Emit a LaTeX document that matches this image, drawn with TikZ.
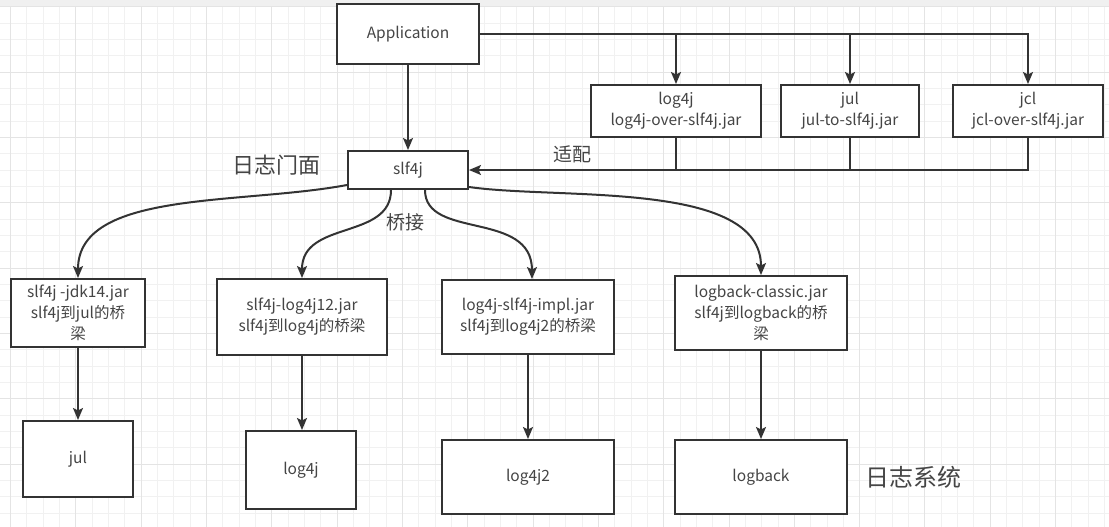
\documentclass[tikz,border=0pt]{standalone}
\usepackage{fontspec}
\setmainfont{Noto Sans CJK SC}
\usetikzlibrary{arrows.meta,calc}
\definecolor{ink}{HTML}{333333}
\definecolor{txt}{HTML}{454545}
\definecolor{gminor}{HTML}{F1F1F1}
\definecolor{gmajor}{HTML}{E4E4E4}
\definecolor{strip}{HTML}{F0F0F0}
\begin{document}
\begin{tikzpicture}[x=1pt,y=-1pt,
  box/.style={draw=ink, line width=2pt, fill=white, text=txt, align=center,
              inner sep=0pt, font=\fontsize{15.5}{21}\selectfont},
  link/.style={draw=ink, line width=2pt},
  tip/.style={-{Stealth[length=12pt,width=10pt,inset=2.5pt]}},
  lbl/.style={text=txt, inner sep=0pt}]
  % canvas and grid
  \useasboundingbox (0,0) rectangle (1109,527);
  \fill[white] (0,0) rectangle (1109,527);
  \foreach \i in {0,...,67} {
    \draw[gminor, line width=0.8pt] ({10.4+16.33*\i},7) -- ({10.4+16.33*\i},527);
  }
  \foreach \j in {0,...,32} {
    \draw[gminor, line width=0.8pt] (0,{6.7+16.33*\j}) -- (1109,{6.7+16.33*\j});
  }
  \foreach \i in {0,...,16} {
    \draw[gmajor, line width=0.8pt] ({10.4+65.32*\i},7) -- ({10.4+65.32*\i},527);
  }
  \foreach \j in {0,...,8} {
    \draw[gmajor, line width=0.8pt] (0,{6.7+65.32*\j}) -- (1109,{6.7+65.32*\j});
  }
  \fill[strip] (0,0) rectangle (1109,6.5);

  % top row
  \node[box, minimum width=142, minimum height=60] (app) at (408,34) {Application};
  \node[box, minimum width=120, minimum height=38] (slf) at (408,170) {slf4j};
  \node[box, minimum width=170, minimum height=52] (alog4j) at (676,111) {log4j\\log4j-over-slf4j.jar};
  \node[box, minimum width=138, minimum height=52] (ajul) at (850,111) {jul\\jul-to-slf4j.jar};
  \node[box, minimum width=150, minimum height=52] (ajcl) at (1028,111) {jcl\\jcl-over-slf4j.jar};

  % bridges
  \node[box, minimum width=134, minimum height=68] (bjdk) at (78,313) {slf4j -jdk14.jar\\slf4j到jul的桥\\梁};
  \node[box, minimum width=170, minimum height=76] (blog4j) at (302,317) {slf4j-log4j12.jar\\slf4j到log4j的桥梁};
  \node[box, minimum width=172, minimum height=74] (blog4j2) at (528,317) {log4j-slf4j-impl.jar\\slf4j到log4j2的桥梁};
  \node[box, minimum width=172, minimum height=74] (blogback) at (761,313) {logback-classic.jar\\slf4j到logback的桥\\梁};

  % logging systems
  \node[box, minimum width=110, minimum height=76] (sjul) at (78,459) {jul};
  \node[box, minimum width=110, minimum height=78] (slog4j) at (301,470) {log4j};
  \node[box, minimum width=172, minimum height=74] (slog4j2) at (528,477) {log4j2};
  \node[box, minimum width=172, minimum height=74] (slogback) at (761,477) {logback};

  % labels
  \node[lbl, font=\fontsize{22}{24}\selectfont] (facade) at (276,165) {日志门面};
  \node[lbl, font=\fontsize{19}{22}\selectfont] (adapt) at (572,154) {适配};
  \node[lbl, font=\fontsize{19}{22}\selectfont] (bridge) at (405,222) {桥接};
  \node[lbl, font=\fontsize{24}{26}\selectfont] (system) at (913,477) {日志系统};

  % application to facade and adapters
  \draw[link, tip] (app.south) -- (slf.north);
  \draw[link, tip] (app.east) -| (ajcl.north);
  \draw[link, tip] (app.east -| alog4j.north) -- (alog4j.north);
  \draw[link, tip] (app.east -| ajul.north) -- (ajul.north);

  % adapters back into slf4j
  \draw[link, tip] (ajcl.south) |- (slf.east);
  \draw[link] (alog4j.south) -- (alog4j.south |- slf.east);
  \draw[link] (ajul.south) -- (ajul.south |- slf.east);

  % slf4j to the bridges
  \coordinate (s1) at ($(slf.south west)+(0,-5)$);
  \coordinate (s2) at ($(slf.south)+(-17,0)$);
  \coordinate (s3) at ($(slf.south)+(17,0)$);
  \coordinate (s4) at ($(slf.south east)+(0,-3)$);
  \draw[link, tip] (s1) .. controls (240,205) and (78,190) .. (bjdk.north);
  \draw[link, tip] (s2) .. controls (391,240) and (302,220) .. (blog4j.north);
  \draw[link, tip] (s3) .. controls (425,240) and (532,210) .. (blog4j2.north -| 532,0);
  \draw[link, tip] (s4) .. controls (560,200) and (761,180) .. (blogback.north);

  % bridges to the logging systems
  \draw[link, tip] (bjdk.south) -- (sjul.north);
  \draw[link, tip] (blog4j.south) -- (blog4j.south |- slog4j.north);
  \draw[link, tip] (blog4j2.south) -- (slog4j2.north);
  \draw[link, tip] (blogback.south) -- (slogback.north);
\end{tikzpicture}
\end{document}
